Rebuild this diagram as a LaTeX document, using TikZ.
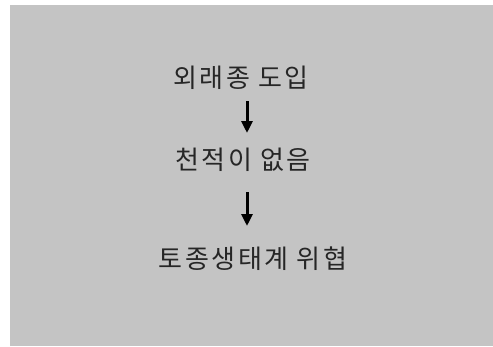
\documentclass[tikz,border=0pt]{standalone}
\usepackage{fontspec}
\newfontfamily\kr[LetterSpace=10]{Noto Sans CJK KR}
\usetikzlibrary{arrows.meta}
\definecolor{screen}{RGB}{196,196,196}
\begin{document}
\begin{tikzpicture}[x=1pt,y=-1pt,
  lbl/.style={font=\kr\fontsize{26}{30}\selectfont, text=black!85, inner sep=0pt, anchor=center},
  arr/.style={line width=3pt, -{Triangle[length=12pt,width=11pt]}, black}]
\useasboundingbox (0,0) rectangle (493,346);
\fill[screen] (10,5) rectangle (493,346);
\node[lbl] (a) at (241,78) {외래종 도입};
\node[lbl] (b) at (243,160) {천적이 없음};
\node[lbl] (c) at (253,259) {토종생태계 위협};
\coordinate (a1) at (247,101);
\coordinate (a2) at (247,133);
\coordinate (b1) at (247,192);
\coordinate (b2) at (247,226);
\draw[arr] (a1) -- (a2);
\draw[arr] (b1) -- (b2);
\end{tikzpicture}
\end{document}
